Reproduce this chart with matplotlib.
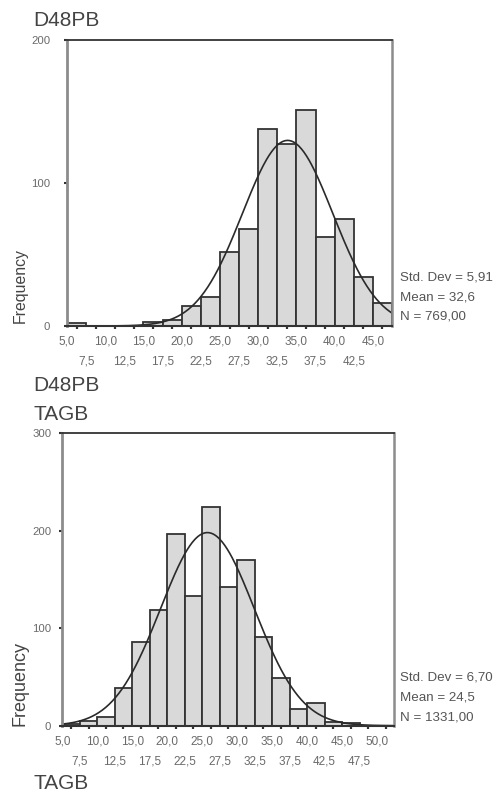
import numpy as np
import matplotlib
matplotlib.use("Agg")
import matplotlib.pyplot as plt

plt.rcParams['font.family'] = ['Liberation Sans', 'DejaVu Sans']

# ---------------- data ----------------
bin_width = 2.5

d48_bins = [5.0, 7.5, 10.0, 12.5, 15.0, 17.5, 20.0, 22.5, 25.0, 27.5,
            30.0, 32.5, 35.0, 37.5, 40.0, 42.5, 45.0]
d48_counts = [2, 0, 0, 0, 3, 4, 14, 20, 52, 68, 138, 127, 151, 62, 75, 34, 16]
d48_mean, d48_sd, d48_n = 32.6, 5.91, 769
d48_stats = ["Std. Dev = 5,91", "Mean = 32,6", "N = 769,00"]
d48_yticks = [0, 100, 200]

tagb_bins = [5.0, 7.5, 10.0, 12.5, 15.0, 17.5, 20.0, 22.5, 25.0, 27.5,
             30.0, 32.5, 35.0, 37.5, 40.0, 42.5, 45.0, 47.5, 50.0]
tagb_counts = [2, 5, 9, 39, 86, 119, 197, 133, 224, 142,
               170, 91, 49, 17, 23, 4, 3, 0, 0]
tagb_mean, tagb_sd, tagb_n = 24.5, 6.70, 1331
tagb_stats = ["Std. Dev = 6,70", "Mean = 24,5", "N = 1331,00"]
tagb_yticks = [0, 100, 200, 300]

W, H = 497, 794
fig = plt.figure(figsize=(W / 100, H / 100), dpi=100)

BAR_FACE = '#d9d9d9'
BAR_EDGE = '#333333'
TXT = '#444444'
TICK_TXT = '#6a6a6a'


def fmt(v):
    return ("%.1f" % v).replace('.', ',')


def draw(rect, bins, counts, mean, sd, n, yticks, stats, stat_y, ylab_size,
         ylab_xy, ytick_pad, row_offsets):
    ax = fig.add_axes(rect)
    bins = np.asarray(bins, float)
    counts = np.asarray(counts, float)
    x0, x1 = bins[0], bins[-1] + bin_width
    ax.bar(bins, counts, width=bin_width, align='edge', color=BAR_FACE,
           edgecolor=BAR_EDGE, linewidth=1.3, zorder=2)
    # fitted normal curve (drawn in the same display convention as the bars)
    xs = np.linspace(x0, x1, 400)
    mu = mean + bin_width / 2
    ys = n * bin_width / (sd * np.sqrt(2 * np.pi)) * np.exp(-0.5 * ((xs - mu) / sd) ** 2)
    ax.plot(xs, ys, color='#2a2a2a', lw=1.2, zorder=3)
    ax.set_xlim(x0, x1)
    ax.set_ylim(0, yticks[-1])

    # spines
    ax.spines['left'].set_color('#8c8c8c')
    ax.spines['left'].set_linewidth(2.0)
    ax.spines['right'].set_color('#8c8c8c')
    ax.spines['right'].set_linewidth(1.8)
    ax.spines['top'].set_color('#333333')
    ax.spines['top'].set_linewidth(1.3)
    ax.spines['bottom'].set_color('#333333')
    ax.spines['bottom'].set_linewidth(1.5)
    for s in ax.spines.values():
        s.set_zorder(4)

    # y ticks
    ax.set_yticks(yticks)
    ax.set_yticklabels([str(t) for t in yticks])
    ax.tick_params(axis='y', length=2, width=1.5, color='#333333',
                   labelsize=8.2, labelcolor=TICK_TXT, pad=ytick_pad)

    # x tick labels in two rows
    is_row1 = [abs(b / 5.0 - round(b / 5.0)) < 1e-9 for b in bins]
    row1 = [b for b, r in zip(bins, is_row1) if r]
    row2 = [b for b, r in zip(bins, is_row1) if not r and b < x1 - bin_width]
    ax.set_xticks(row1)
    ax.set_xticklabels([fmt(b) for b in row1])
    ax.set_xticks(row2, minor=True)
    ax.set_xticklabels([fmt(b) for b in row2], minor=True)
    ax.tick_params(axis='x', which='major', length=0, labelsize=8.5,
                   labelcolor=TICK_TXT, pad=row_offsets[0])
    ax.tick_params(axis='x', which='minor', length=0, labelsize=8.5,
                   labelcolor=TICK_TXT, pad=row_offsets[1])

    # small tick marks at bin centres
    sec = ax.secondary_xaxis('bottom')
    sec.set_xticks(bins + bin_width / 2)
    sec.set_xticklabels([''] * len(bins))
    sec.tick_params(axis='x', length=2.5, width=1.6, color='#333333')
    sec.spines['bottom'].set_visible(False)

    ax.set_ylabel('Frequency', fontsize=ylab_size, color=TXT, labelpad=0)
    ax.yaxis.set_label_coords(*ylab_xy)
    ax.yaxis.label.set_horizontalalignment('left')
    ax.yaxis.label.set_verticalalignment('center')

    for s, yy in zip(stats, stat_y):
        fig.text(400 / W, 1 - yy / H, s, fontsize=9.6, color='#555555',
                 ha='left', va='center')
    return ax


draw([67 / W, 1 - 326 / H, 325 / W, 286 / H], d48_bins, d48_counts,
     d48_mean, d48_sd, d48_n, d48_yticks, d48_stats, [277, 297, 317],
     11.4, (-0.1446, 0.01), 10, (6.5, 21))
draw([62.3 / W, 1 - 725.7 / H, 332.2 / W, 292.4 / H], tagb_bins, tagb_counts,
     tagb_mean, tagb_sd, tagb_n, tagb_yticks, tagb_stats, [677, 697.5, 717.5],
     13, (-0.127, 0.0), 6, (7, 21.5))

for label, yb in [("D48PB", 26), ("D48PB", 391), ("TAGB", 420), ("TAGB", 789)]:
    fig.text(33 / W, 1 - yb / H, label, fontsize=15, color=TXT,
             ha='left', va='baseline')

fig.savefig('out.png', dpi=100)
